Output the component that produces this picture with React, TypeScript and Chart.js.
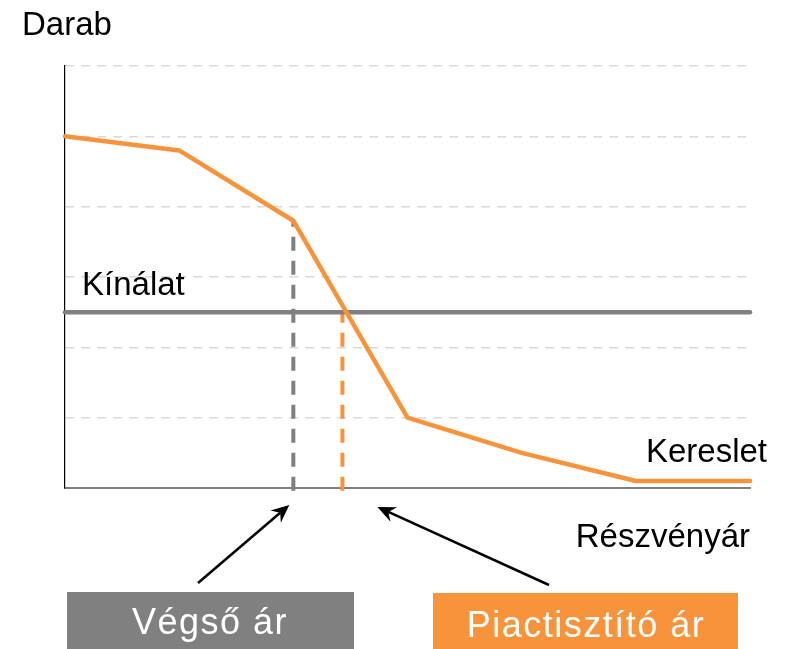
import React, { useEffect, useRef } from "react";
import { Chart, registerables } from "chart.js";

Chart.register(...registerables);

// x positions (share price steps) and demand values (units)
const xSteps = [0, 1, 2, 3, 4, 5, 6];
const demand = [5, 4.8, 3.8, 1.0, 0.5, 0.1, 0.1];
const supplyLevel = 2.5;
const finalPriceX = 2;
const finalPriceY = 3.8;
const clearingPriceX = 2.43;
const yTicks = [0, 1, 2, 3, 4, 5, 6];

const yLabel = "Darab";
const xLabel = "Részvényár";
const supplyLabel = "Kínálat";
const demandLabel = "Kereslet";
const finalPriceLabel = "Végső ár";
const clearingPriceLabel = "Piactisztító ár";

const ORANGE = "#F7933B";
const GRAY = "#808080";
const FONT = "'Liberation Sans', Arial, Helvetica, sans-serif";

function arrow(ctx: CanvasRenderingContext2D, x1: number, y1: number, x2: number, y2: number) {
  const ang = Math.atan2(y2 - y1, x2 - x1);
  const headLen = 18;
  const headW = 8;
  const notch = 12;
  ctx.save();
  ctx.strokeStyle = "#000";
  ctx.fillStyle = "#000";
  ctx.lineWidth = 2.5;
  ctx.beginPath();
  ctx.moveTo(x1, y1);
  ctx.lineTo(x2 - Math.cos(ang) * notch, y2 - Math.sin(ang) * notch);
  ctx.stroke();
  ctx.translate(x2, y2);
  ctx.rotate(ang);
  ctx.beginPath();
  ctx.moveTo(0, 0);
  ctx.lineTo(-headLen, -headW);
  ctx.lineTo(-notch, 0);
  ctx.lineTo(-headLen, headW);
  ctx.closePath();
  ctx.fill();
  ctx.restore();
}

const annotations = {
  id: "annotations",
  afterDraw(chart: any) {
    const ctx: CanvasRenderingContext2D = chart.ctx;
    const { left, right, bottom } = chart.chartArea;
    const xs = chart.scales.x;
    const ys = chart.scales.y;
    ctx.save();
    ctx.fillStyle = "#000";
    ctx.font = `33px ${FONT}`;
    ctx.textBaseline = "alphabetic";
    ctx.textAlign = "left";
    ctx.fillText(yLabel, 22, 35);
    ctx.fillText(supplyLabel, left + 17, ys.getPixelForValue(supplyLevel) - 17);
    ctx.textAlign = "right";
    ctx.fillText(demandLabel, right + 17, ys.getPixelForValue(demand[demand.length - 1]) - 19);
    ctx.fillText(xLabel, right, bottom + 59);

    // boxes
    const gx = xs.getPixelForValue(finalPriceX);
    const ox = xs.getPixelForValue(clearingPriceX);
    ctx.fillStyle = GRAY;
    ctx.fillRect(67, 592, 287, 57);
    ctx.fillStyle = ORANGE;
    ctx.fillRect(433, 593, 305, 56);
    ctx.fillStyle = "#fff";
    ctx.font = `36px ${FONT}`;
    ctx.textAlign = "center";
    (ctx as any).letterSpacing = "1.5px";
    ctx.fillText(finalPriceLabel, 210, 634);
    ctx.fillText(clearingPriceLabel, 586, 637);
    (ctx as any).letterSpacing = "0px";
    ctx.restore();

    arrow(ctx, 198, 583, gx - 4, bottom + 17);
    arrow(ctx, 549, 585, ox + 35, bottom + 19);
  },
};

export default function App() {
  const ref = useRef<HTMLCanvasElement>(null);
  useEffect(() => {
    if (!ref.current) return;
    const chart = new Chart(ref.current, {
      type: "line",
      data: {
        datasets: [
          {
            label: demandLabel,
            data: xSteps.map((x, i) => ({ x, y: demand[i] })),
            borderColor: ORANGE,
            borderWidth: 4.5,
            pointRadius: 0,
            borderCapStyle: "round",
            borderJoinStyle: "round",
            clip: false as any,
          },
          {
            label: supplyLabel,
            data: [
              { x: xSteps[0], y: supplyLevel },
              { x: xSteps[xSteps.length - 1], y: supplyLevel },
            ],
            borderColor: GRAY,
            borderWidth: 4.5,
            pointRadius: 0,
            borderCapStyle: "round",
            clip: false as any,
          },
          {
            label: finalPriceLabel,
            data: [
              { x: finalPriceX, y: -0.04 },
              { x: finalPriceX, y: finalPriceY },
            ],
            borderColor: GRAY,
            borderWidth: 4,
            borderDash: [14, 10],
            pointRadius: 0,
            clip: false as any,
          },
          {
            label: clearingPriceLabel,
            data: [
              { x: clearingPriceX, y: -0.04 },
              { x: clearingPriceX, y: supplyLevel },
            ],
            borderColor: ORANGE,
            borderWidth: 4,
            borderDash: [14, 10],
            pointRadius: 0,
            clip: false as any,
          },
        ],
      },
      options: {
        animation: false,
        responsive: false,
        maintainAspectRatio: false,
        layout: { autoPadding: false, padding: { left: 65, right: 37, top: 66, bottom: 161 } },
        plugins: { legend: { display: false }, tooltip: { enabled: false }, title: { display: false } },
        scales: {
          x: {
            type: "linear",
            min: xSteps[0],
            max: xSteps[xSteps.length - 1],
            ticks: { display: false },
            grid: { display: false, drawTicks: false },
            border: { display: true, color: GRAY, width: 2 },
          },
          y: {
            type: "linear",
            min: yTicks[0],
            max: yTicks[yTicks.length - 1],
            afterBuildTicks: (s: any) => {
              s.ticks = yTicks.map((v) => ({ value: v }));
            },
            ticks: { display: false },
            grid: { display: true, drawTicks: false, color: "#d9d9d9", lineWidth: 1.5 },
            border: { display: true, color: "#000", width: 1.2, dash: [9, 7] },
          },
        },
      },
      plugins: [annotations],
    });
    return () => chart.destroy();
  }, []);
  return (
    <div style={{ position: "fixed", left: 0, top: 0, width: 787, height: 649, background: "#fff" }}>
      <canvas ref={ref} width={787} height={649} style={{ display: "block" }} />
    </div>
  );
}
